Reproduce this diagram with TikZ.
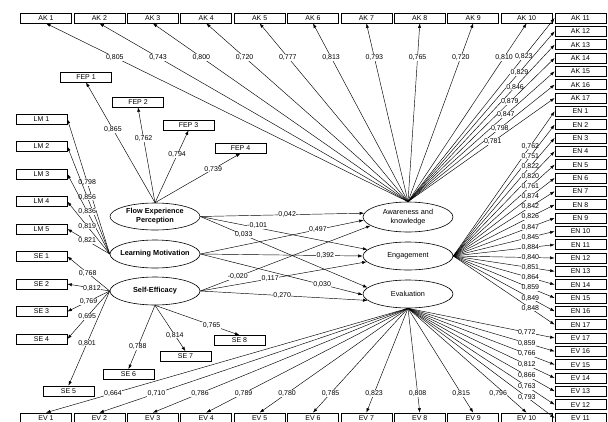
\documentclass[tikz,border=0pt]{standalone}
\usepackage{fontspec}
\setmainfont{Liberation Sans}
\usetikzlibrary{shapes.geometric,arrows.meta}
\begin{document}
\begin{tikzpicture}[x=1pt,y=-1pt,
  ind/.style={draw, line width=0.7pt, minimum width=51pt, minimum height=10pt, inner sep=0pt, font=\fontsize{7}{8}\selectfont},
  latent/.style={draw, ellipse, line width=0.6pt, minimum width=90pt, minimum height=28pt, inner sep=0pt},
  ltb/.style={font=\fontsize{7.3}{9}\selectfont\bfseries, align=center},
  ltr/.style={font=\fontsize{7.3}{9}\selectfont, align=center},
  conn/.style={-{Latex[length=4.5pt,width=3.2pt]}, line width=0.45pt},
  wt/.style={font=\fontsize{7}{8}\selectfont, fill=white, inner sep=0.4pt},
]
\useasboundingbox (0,0) rectangle (608,421);

% indicator boxes
\foreach \i in {1,...,10} \node[ind] (AK\i) at ({46+53.4*(\i-1)},18) {AK \i};
\foreach \j in {11,...,17} \node[ind] (AK\j) at (580.5,{18+13.333*(\j-11)}) {AK \j};
\foreach \j in {1,...,17} \node[ind] (EN\j) at (580.5,{18+13.333*(\j+6)}) {EN \j};
\foreach \j in {11,...,17} \node[ind] (EV\j) at (580.5,{18+13.333*(41-\j)}) {EV \j};
\foreach \i in {1,...,10} \node[ind] (EV\i) at ({46+53.4*(\i-1)},418) {EV \i};
\foreach \k in {1,...,5} \node[ind] (LM\k) at (41.5,{119+27.5*(\k-1)}) {LM \k};
\foreach \k in {1,...,4} \node[ind] (SE\k) at (41.5,{256.5+27.5*(\k-1)}) {SE \k};
\node[ind] (SE5) at (68.5,391) {SE 5};
\node[ind] (SE6) at (128.5,374.5) {SE 6};
\node[ind] (SE7) at (185.5,356.5) {SE 7};
\node[ind] (SE8) at (239.5,340.5) {SE 8};
\node[ind] (FEP1) at (86,77) {FEP 1};
\node[ind] (FEP2) at (138,102) {FEP 2};
\node[ind] (FEP3) at (188.5,125) {FEP 3};
\node[ind] (FEP4) at (240.5,148) {FEP 4};

% latent variables
\node[latent, minimum height=27pt, label={[ltb]center:Flow Experience\\Perception}] (fep) at (155,216.5) {};
\node[latent, label={[ltb]center:Learning Motivation}] (lm) at (155,254) {};
\node[latent, label={[ltb]center:Self-Efficacy}] (se) at (155,291) {};
\node[latent, minimum height=30pt, label={[ltr]center:Awareness and\\knowledge}] (ak) at (408,217) {};
\node[latent, label={[ltr]center:Engagement}] (eng) at (408,256) {};
\node[latent, label={[ltr]center:Evaluation}] (ev) at (408,294) {};

% AK loadings
\foreach \i/\v in {1/{0,805},2/{0,743},3/{0,800},4/{0,720},5/{0,777},6/{0,813},7/{0,793},8/{0,765},9/{0,720},10/{0,810}}
  \draw[conn] (ak.north) -- node[wt,pos=0.81] {\v} (AK\i.south);
\foreach \i/\v/\p in {11/{0,823}/0.79,12/{0,829}/0.76,13/{0,846}/0.73,14/{0,879}/0.694,15/{0,847}/0.667,16/{0,798}/0.626,17/{0,781}/0.578}
  \draw[conn] (ak.north) -- node[wt,pos=\p] {\v} (AK\i.west);

% EN loadings
\foreach \i/\v in {1/{0,762},2/{0,751},3/{0,822},4/{0,820},5/{0,761},6/{0,874},7/{0,842},8/{0,826},9/{0,847},10/{0,845},11/{0,884},12/{0,840},13/{0,851},14/{0,864},15/{0,859},16/{0,849},17/{0,848}}
  \draw[conn] (eng.east) -- node[wt,pos=0.76] {\v} (EN\i.west);

% EV loadings
\foreach \i/\v in {17/{0,772},16/{0,859},15/{0,766},14/{0,812},13/{0,866},12/{0,763},11/{0,793}}
  \draw[conn] (ev.south) -- node[wt,pos=0.81] {\v} (EV\i.west);
\foreach \i/\v in {1/{0,664},2/{0,710},3/{0,786},4/{0,789},5/{0,780},6/{0,785},7/{0,823},8/{0,808},9/{0,815}}
  \draw[conn] (ev.south) -- node[wt,pos=0.815] {\v} (EV\i.north);
\draw[conn] (ev.south) -- node[wt,pos=0.82,xshift=-7pt] {0,796} (EV10.north);

% FEP loadings
\foreach \i/\v/\p in {1/{0,865}/0.61,2/{0,762}/0.67,3/{0,794}/0.66,4/{0,739}/0.68}
  \draw[conn] (fep.north) -- node[wt,pos=\p] {\v} (FEP\i.south);

% LM loadings
\foreach \i/\v in {1/{0,798},2/{0,856},3/{0,836},4/{0,819},5/{0,821}}
  \draw[conn] (lm.west) -- node[wt,pos=0.53] {\v} (LM\i.east);

% SE loadings
\foreach \i/\v/\p in {1/{0,768}/0.52,2/{0,812}/0.42,3/{0,769}/0.5,4/{0,695}/0.53}
  \draw[conn] (se.west) -- node[wt,pos=\p] {\v} (SE\i.east);
\draw[conn] (se.west) -- node[wt,pos=0.55] {0,801} (SE5.north);
\foreach \i/\v/\p in {6/{0,788}/0.65,7/{0,814}/0.65,8/{0,765}/0.67}
  \draw[conn] (se.south) -- node[wt,pos=\p] {\v} (SE\i.north);

% structural paths
\draw[conn] (fep.east) -- node[wt,pos=0.53] {0,042} (ak.175);
\draw[conn] (fep.east) -- node[wt,pos=0.34,yshift=2pt] {-0,101} (eng.171);
\draw[conn] (fep.east) -- node[wt,pos=0.26] {0,033} (ev.171);
\draw[conn] (lm.east) -- node[wt,pos=0.72] {0,497} (ak.184);
\draw[conn] (lm.east) -- node[wt,pos=0.77] {0,392} (eng.180);
\draw[conn] (lm.east) -- node[wt,pos=0.75] {0,030} (ev.181);
\draw[conn] (se.east) -- node[wt,pos=0.22] {-0,020} (ak.193);
\draw[conn] (se.east) -- node[wt,pos=0.42] {0,117} (eng.188);
\draw[conn] (se.east) -- node[wt,pos=0.49] {0,270} (ev.189);
\end{tikzpicture}
\end{document}
